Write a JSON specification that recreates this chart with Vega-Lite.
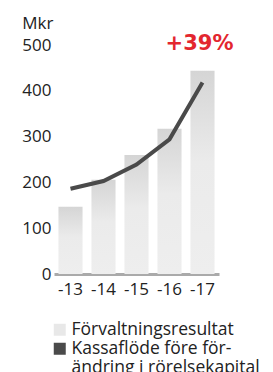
{
  "$schema": "https://vega.github.io/schema/vega-lite/v6.json",
  "autosize": {"type": "none"},
  "width": 165,
  "height": 229,
  "padding": {"left": 54, "top": 45, "right": 54, "bottom": 98},
  "background": "white",
  "config": {
    "view": {"stroke": null},
    "font": "Open Sans",
    "axis": {"labelFont": "Open Sans", "titleFont": "Open Sans", "labelColor": "#222222", "titleColor": "#222222"},
    "legend": {"labelFont": "Open Sans"}
  },
  "data": {
    "values": [
      {"year": "-13", "forv": 147, "kassa": 186},
      {"year": "-14", "forv": 206, "kassa": 203},
      {"year": "-15", "forv": 260, "kassa": 239},
      {"year": "-16", "forv": 317, "kassa": 294},
      {"year": "-17", "forv": 444, "kassa": 418}
    ]
  },
  "encoding": {
    "x": {
      "field": "year", "type": "ordinal", "sort": null,
      "scale": {"paddingInner": 0.27, "paddingOuter": 0.135},
      "axis": {"title": null, "labelAngle": 0, "ticks": false, "domainColor": "#aaaaaa", "domainWidth": 3, "labelFontSize": 17, "labelPadding": 7}
    }
  },
  "layer": [
    {
      "mark": {"type": "bar", "color": {"gradient": "linear", "x1": 0, "y1": 0, "x2": 0, "y2": 1, "stops": [{"offset": 0, "color": "#d5d5d5"}, {"offset": 0.45, "color": "#ebebeb"}, {"offset": 1, "color": "#eeeeee"}]}},
      "encoding": {
        "y": {
          "field": "forv", "type": "quantitative",
          "scale": {"domain": [0, 500]},
          "axis": {"title": "Mkr", "titleAngle": 0, "titleAlign": "right", "titleBaseline": "middle", "titleX": -1, "titleY": -22, "titleFontSize": 17, "titleFontWeight": "normal", "values": [0, 100, 200, 300, 400, 500], "grid": false, "ticks": false, "domain": false, "labelFontSize": 17, "labelPadding": 3}
        }
      }
    },
    {
      "mark": {"type": "line", "strokeWidth": 4, "strokeCap": "butt"},
      "encoding": {
        "y": {"field": "kassa", "type": "quantitative"},
        "color": {
          "datum": "Kassaflöde före förändring i rörelsekapital",
          "scale": {"domain": ["Förvaltningsresultat", "Kassaflöde före förändring i rörelsekapital", "ändring i rörelsekapital"], "range": ["#e8e8e8", "#4a4a4a", "#ffffff"]},
          "legend": {
            "title": null, "orient": "none", "legendX": -3, "legendY": 276,
            "symbolType": "square", "symbolSize": 144, "symbolStrokeWidth": 0,
            "labelFontSize": 17.5, "labelColor": "#222222", "labelOffset": 3, "rowPadding": 0, "padding": 0,
            "labelLimit": 300,
            "labelExpr": "datum.label == 'Kassaflöde före förändring i rörelsekapital' ? 'Kassaflöde före för-' : datum.label",
            "encode": {
              "symbols": {"update": {"fill": {"scale": "color", "field": "value"}, "strokeWidth": {"value": 0}}}
            }
          }
        }
      }
    },
    {
      "data": {"values": [{"year": "-17", "v": 500, "label": "+39%"}]},
      "mark": {"type": "text", "font": "DejaVu Sans", "fontWeight": "bold", "fontSize": 21, "color": "#e3262f", "dx": -3, "dy": -1, "baseline": "middle"},
      "encoding": {
        "y": {"field": "v", "type": "quantitative"},
        "text": {"field": "label"}
      }
    }
  ]
}
